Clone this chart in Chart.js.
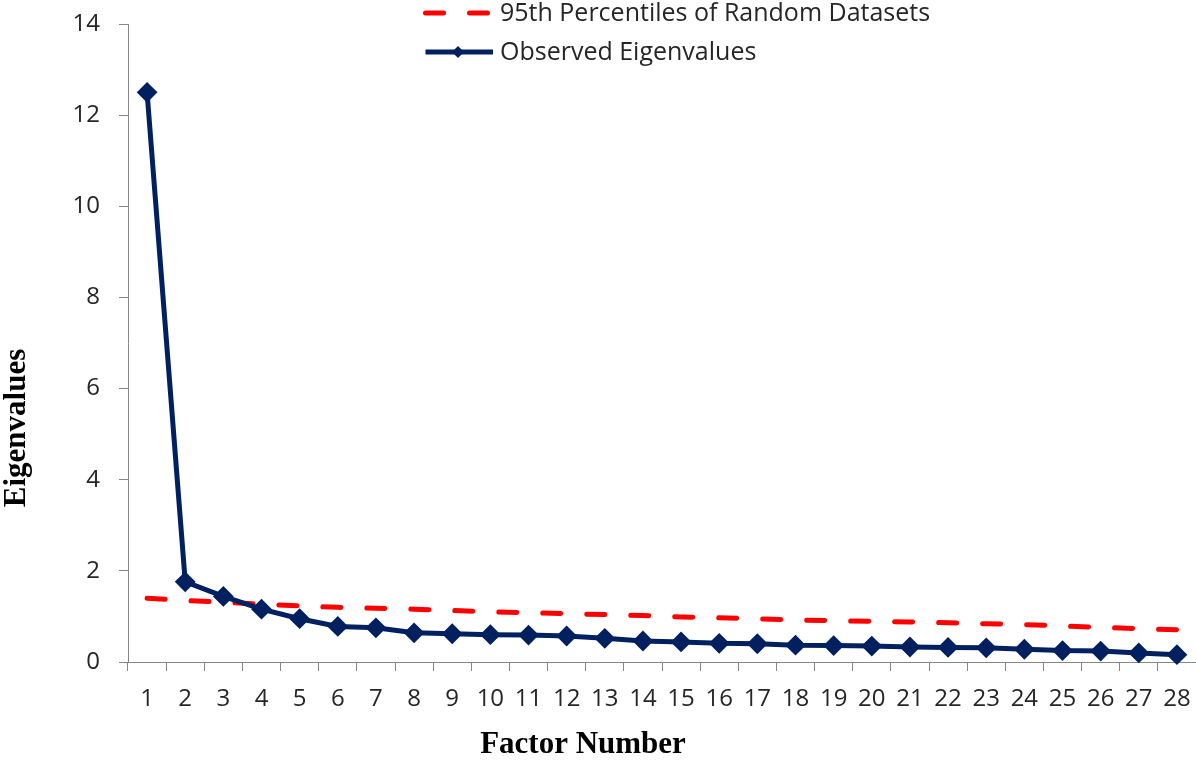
<!DOCTYPE html>
<html>
<head>
<meta charset="utf-8">
<script src="https://cdn.jsdelivr.net/npm/chart.js@4.4.1/dist/chart.umd.min.js"></script>
<style>
  html, body { margin: 0; padding: 0; background: #fff; }
  #wrap { width: 1196px; height: 765px; }
</style>
</head>
<body>
<div id="wrap"><canvas id="screeChart"></canvas></div>
<script>
const factors = ["1", "2", "3", "4", "5", "6", "7", "8", "9", "10", "11", "12", "13", "14",
  "15", "16", "17", "18", "19", "20", "21", "22", "23", "24", "25", "26", "27", "28"];
const observed = [12.5, 1.76, 1.44, 1.16, 0.95, 0.78, 0.75, 0.64, 0.62, 0.60, 0.59, 0.57, 0.52, 0.46,
  0.44, 0.41, 0.40, 0.37, 0.36, 0.35, 0.33, 0.32, 0.31, 0.28, 0.25, 0.24, 0.20, 0.16];
const random95 = [1.40, 1.35, 1.31, 1.27, 1.23, 1.20, 1.18, 1.16, 1.13, 1.10, 1.08, 1.06, 1.04, 1.02,
  0.99, 0.97, 0.95, 0.92, 0.91, 0.89, 0.88, 0.86, 0.84, 0.82, 0.79, 0.76, 0.73, 0.71];
const seriesNames = ["95th Percentiles of Random Datasets", "Observed Eigenvalues"];
const yTitle = "Eigenvalues";
const xTitle = "Factor Number";

const axisGray = "#868686";
const textColor = "#262626";

// legend + axis titles drawn over the canvas (legend sits inside the plot like the original)
const overlayText = {
  id: "overlayText",
  afterDraw(chart) {
    const ctx = chart.ctx;
    const ds = chart.data.datasets;
    ctx.save();

    // legend
    const rows = [13, 52];
    ds.forEach((d, i) => {
      const y = rows[i];
      ctx.strokeStyle = d.borderColor;
      ctx.lineWidth = d.borderWidth;
      ctx.lineCap = d.borderCapStyle || "butt";
      ctx.setLineDash(d.borderDash || []);
      ctx.beginPath();
      ctx.moveTo(425.5, y);
      ctx.lineTo(i === 0 ? 490 : 493, y);
      ctx.stroke();
      ctx.setLineDash([]);
      if (d.pointRadius > 0) {
        ctx.fillStyle = d.pointBackgroundColor;
        ctx.beginPath();
        ctx.moveTo(458 - 6, y);
        ctx.lineTo(458, y - 6);
        ctx.lineTo(458 + 6, y);
        ctx.lineTo(458, y + 6);
        ctx.closePath();
        ctx.fill();
      }
      ctx.fillStyle = textColor;
      ctx.font = "25px 'Open Sans'";
      ctx.textAlign = "left";
      ctx.textBaseline = "middle";
      ctx.fillText(d.label, 500, y + 1);
    });

    // axis titles
    ctx.fillStyle = "#000";
    ctx.font = "bold 31px 'Liberation Serif'";
    ctx.textAlign = "center";
    ctx.textBaseline = "alphabetic";
    ctx.fillText(xTitle, 583, 753);

    ctx.translate(25, 428);
    ctx.rotate(-Math.PI / 2);
    ctx.fillText(yTitle, 0, 0);
    ctx.restore();
  }
};

const ctx = document.getElementById("screeChart").getContext("2d");
new Chart(ctx, {
  type: "line",
  data: {
    labels: factors,
    datasets: [
      {
        label: seriesNames[0],
        data: random95,
        borderColor: "#ff0000",
        backgroundColor: "#ff0000",
        borderWidth: 5,
        borderDash: [18, 26],
        borderCapStyle: "round",
        pointRadius: 0,
        tension: 0,
        fill: false,
        order: 2
      },
      {
        label: seriesNames[1],
        data: observed,
        borderColor: "#002060",
        backgroundColor: "#002060",
        borderWidth: 5,
        pointStyle: "rectRot",
        pointRadius: 9,
        pointBorderWidth: 2,
        pointBackgroundColor: "#002060",
        pointBorderColor: "#002060",
        tension: 0,
        fill: false,
        clip: false,
        order: 1
      }
    ]
  },
  options: {
    responsive: true,
    maintainAspectRatio: false,
    animation: false,
    layout: { autoPadding: false, padding: { top: 24, right: 0, bottom: 0, left: 0 } },
    plugins: {
      legend: { display: false },
      tooltip: { enabled: false }
    },
    scales: {
      x: {
        offset: true,
        grid: { offset: true, drawOnChartArea: false, drawTicks: true, tickLength: 9, color: axisGray },
        border: { color: axisGray, width: 1 },
        ticks: {
          font: { family: "Open Sans", size: 24 },
          color: textColor,
          padding: 14,
          maxRotation: 0,
          autoSkip: false
        },
        afterFit: s => { s.height = 103; s.paddingLeft = 0; s.paddingRight = 0; }
      },
      y: {
        min: 0,
        max: 14,
        grid: { drawOnChartArea: false, drawTicks: true, tickLength: 9, color: axisGray },
        border: { color: axisGray, width: 1 },
        ticks: {
          stepSize: 2,
          font: { family: "Open Sans", size: 24 },
          color: textColor,
          padding: 19
        },
        afterFit: s => { s.width = 128; s.paddingTop = 0; s.paddingBottom = 0; }
      }
    }
  },
  plugins: [overlayText]
});
</script>
</body>
</html>
